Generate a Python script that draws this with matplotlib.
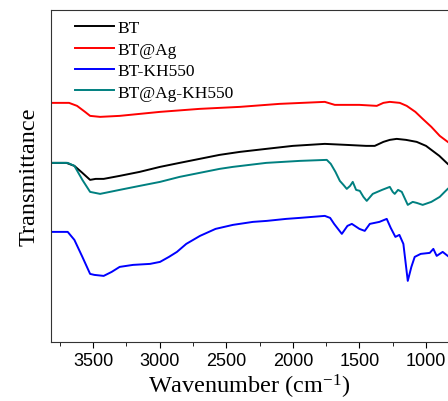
import matplotlib
matplotlib.use("Agg")
import matplotlib.pyplot as plt
from matplotlib.ticker import MultipleLocator

plt.rcParams['mathtext.default'] = 'regular'

# FTIR spectra (wavenumber in cm-1, transmittance in arbitrary units)
bt_x = [3815, 3700, 3640, 3580, 3522, 3480, 3420, 3300, 3150, 2997, 2850, 2700, 2550, 2397,
        2200, 2000, 1760, 1600, 1450, 1385, 1320, 1272, 1220, 1150, 1070, 1000, 950, 900, 837]
bt_y = [179, 179, 176, 169, 162, 163, 163, 166, 170, 175, 179, 183, 187, 190,
        193, 196, 198, 197, 196, 196, 200, 202, 203, 202, 200, 196, 191, 186, 178]

btag_x = [3815, 3680, 3620, 3560, 3522, 3447, 3300, 2997, 2700, 2397, 2100, 1760, 1685,
          1500, 1370, 1320, 1272, 1197, 1145, 1080, 1025, 960, 897, 837]
btag_y = [239, 239, 236, 230, 226, 225, 226, 230, 233, 235, 238, 240, 237,
          237, 236, 239, 240, 239, 236, 230, 223, 215, 206, 200]

btkh_x = [3815, 3690, 3640, 3580, 3522, 3490, 3420, 3360, 3300, 3200, 3072, 2997, 2930, 2870,
          2800, 2697, 2580, 2450, 2300, 2195, 2050, 1947, 1760, 1720, 1690, 1632, 1590, 1557,
          1500, 1460, 1422, 1350, 1295, 1265, 1230, 1200, 1170, 1137, 1110, 1085, 1040, 972,
          945, 920, 875, 837]
btkh_y = [110, 110, 102, 85, 68, 67, 66, 70, 75, 77, 78, 80, 85, 90,
          98, 106, 113, 117, 120, 121, 123, 124, 126, 124, 118, 108, 116, 118,
          113, 111, 118, 120, 123, 114, 105, 107, 98, 61, 75, 85, 88, 89,
          93, 86, 90, 86]

btagkh_x = [3815, 3690, 3640, 3580, 3522, 3447, 3300, 3150, 2997, 2850, 2700, 2550, 2450, 2200,
            1947, 1745, 1715, 1680, 1647, 1620, 1595, 1570, 1550, 1525, 1497, 1470, 1445, 1400,
            1330, 1272, 1250, 1235, 1210, 1182, 1137, 1100, 1070, 1025, 960, 897, 860, 837]
btagkh_y = [179, 179, 176, 162, 150, 148, 152, 156, 160, 165, 169, 173, 175, 179,
            181, 182, 178, 170, 161, 157, 153, 156, 160, 152, 151, 145, 141, 148,
            152, 155, 150, 148, 152, 150, 137, 140, 139, 137, 140, 145, 150, 153]

fig = plt.figure(figsize=(4.48, 4.02), dpi=100)
ax = fig.add_axes([0.114, 0.147, 0.886, 0.826])

ax.plot(bt_x, bt_y, color='black', lw=1.4, label='BT')
ax.plot(btag_x, btag_y, color='red', lw=1.4, label='BT@Ag')
ax.plot(btkh_x, btkh_y, color='blue', lw=1.4, label='BT-KH550')
ax.plot(btagkh_x, btagkh_y, color='#008080', lw=1.4, label='BT@Ag-KH550')

ax.set_xlim(3815, 835)
ax.set_ylim(0, 332)
ax.set_yticks([])
ax.xaxis.set_major_locator(MultipleLocator(500))
ax.xaxis.set_minor_locator(MultipleLocator(250))
ax.tick_params(axis='x', which='major', length=4, direction='out', labelsize=13)
ax.tick_params(axis='x', which='minor', length=3, direction='out')
for lab in ax.get_xticklabels():
    lab.set_family('Liberation Sans')
ax.spines['right'].set_visible(False)
for s in ['left', 'bottom', 'top']:
    ax.spines[s].set_color('#333333')

ax.set_xlabel('Wavenumber (cm$^{-1}$)', family='Liberation Serif', fontsize=17.5, labelpad=2)
ax.set_ylabel('Transmittance', family='Liberation Serif', fontsize=17.5, labelpad=8)

ax.legend(loc='upper left', frameon=False, prop={'family': 'Liberation Serif', 'size': 12.5},
          handlelength=2.2, handletextpad=0.2, labelspacing=0.3, borderaxespad=0.2,
          bbox_to_anchor=(0.035, 1.0))

fig.savefig('out.png', dpi=100)
